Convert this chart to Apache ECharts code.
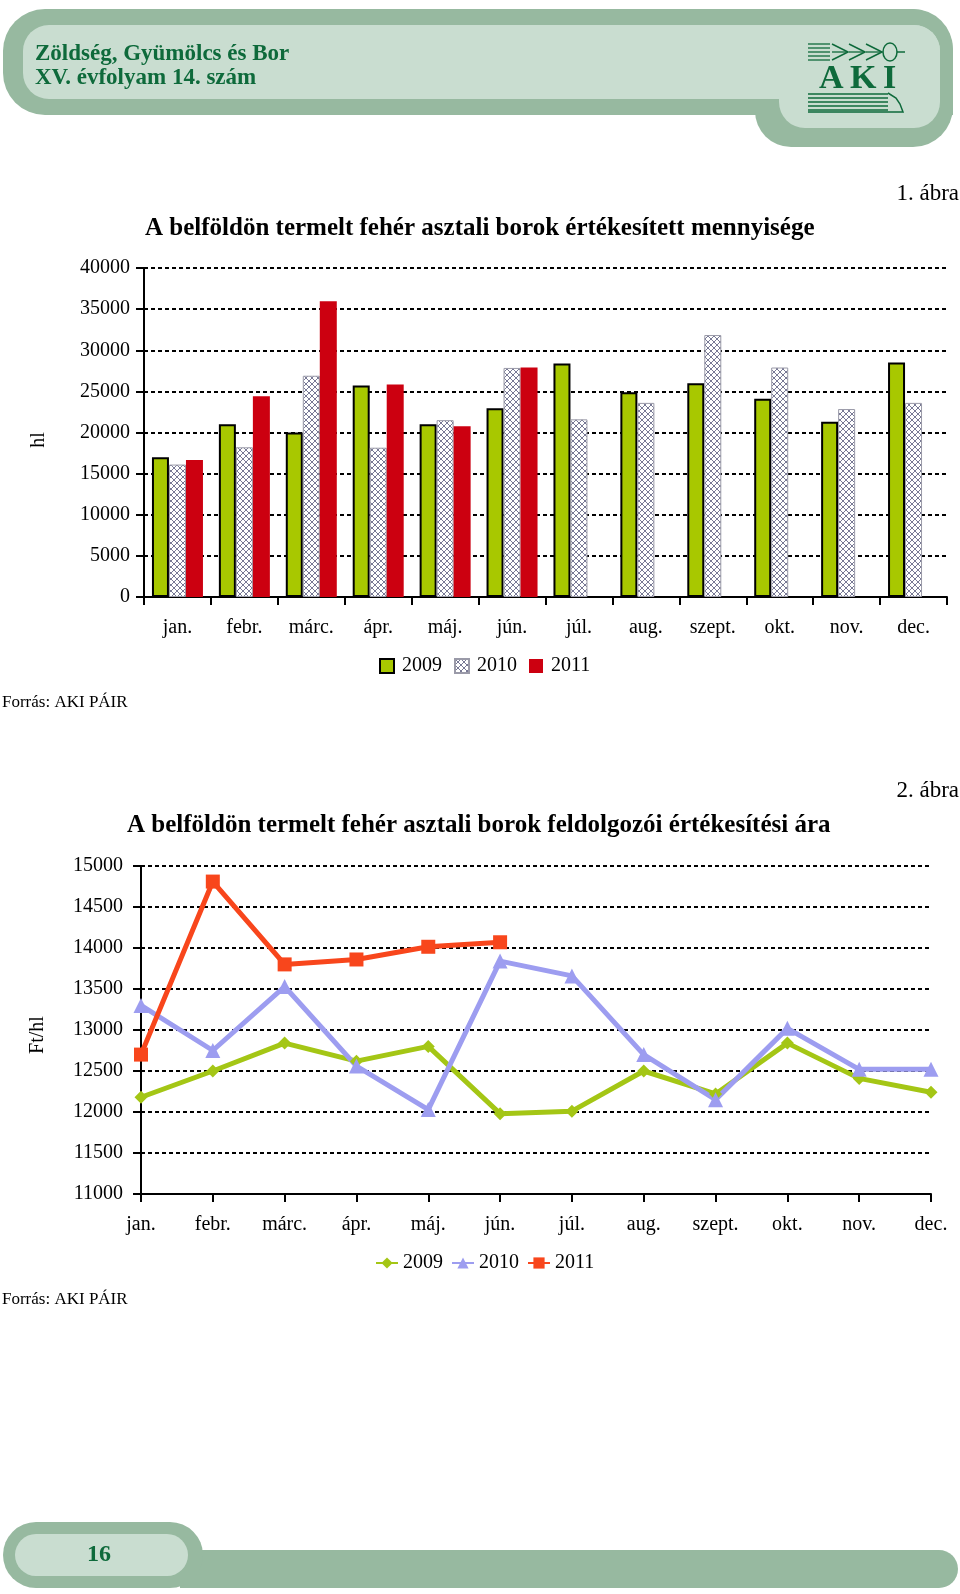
<!DOCTYPE html>
<html>
<head>
<meta charset="utf-8">
<script src="https://cdn.jsdelivr.net/npm/echarts@6/dist/echarts.min.js"></script>
<style>
html,body{margin:0;padding:0;background:#fff;}
#chart{width:960px;height:1594px;}
</style>
</head>
<body>
<div id="chart"></div>
<script>
// hónapok, évek
var months = ['jan.','febr.','márc.','ápr.','máj.','jún.','júl.','aug.','szept.','okt.','nov.','dec.'];
var years = ['2009','2010','2011'];
// 1. ábra: értékesített mennyiség (hl)
var qty2009 = [17000,21000,20000,25700,21000,22950,28400,24900,26000,24100,21300,28500];
var qty2010 = [16100,18200,26900,18150,21500,27850,21600,23600,31850,27900,22850,23600];
var qty2011 = [16650,24400,35950,25850,20750,27900,null,null,null,null,null,null];
// 2. ábra: feldolgozói értékesítési ár (Ft/hl)
var price2009 = [12180,12500,12840,12620,12800,11980,12010,12500,12220,12840,12410,12240];
var price2010 = [13300,12750,13530,12560,12030,13840,13660,12700,12150,13020,12520,12520];
var price2011 = [12700,14810,13800,13860,14015,14070,null,null,null,null,null,null];
// tengely beosztások
var qtyTicks = [0,5000,10000,15000,20000,25000,30000,35000,40000];
var priceTicks = [11000,11500,12000,12500,13000,13500,14000,14500,15000];

var FONT = 'Liberation Serif';
var GREEN_TXT = '#0e6a3b';
var OUTER = '#97b9a0';
var INNER = '#c9ddd0';

//kereszt-sraffozás a 2010-es oszlopokhoz
function hatchCanvas(){
    var c = document.createElement('canvas');
    c.width = 6; c.height = 6;
    var ctx = c.getContext('2d');
    ctx.fillStyle = '#fff';
    ctx.fillRect(0,0,6,6);
    ctx.strokeStyle = '#55577a';
    ctx.lineWidth = 0.8;
    ctx.beginPath();
    ctx.moveTo(0,0); ctx.lineTo(6,6);
    ctx.moveTo(6,0); ctx.lineTo(0,6);
    ctx.stroke();
    return c;
}
var hatch = {image: hatchCanvas(), repeat: 'repeat'};

var chart = echarts.init(document.getElementById('chart'), null, {renderer:'canvas'});

var splitLine = {show:true, lineStyle:{color:'#000', width:2, type:[4,3]}};
var axisLine = {show:true, lineStyle:{color:'#000', width:2}};
var labelStyle = {fontFamily:FONT, fontSize:20, color:'#000'};
var plainNum = function(v){ return String(v); };

//fejléc és lábléc rajz
var deco = [
    {type:'rect', shape:{x:3,y:9,width:950,height:106,r:[42,42,0,42]}, style:{fill:OUTER}},
    {type:'rect', shape:{x:755,y:9,width:198,height:138,r:[0,40,40,36]}, style:{fill:OUTER}},
    {type:'rect', shape:{x:23,y:25,width:917,height:74,r:[26,26,0,26]}, style:{fill:INNER}},
    {type:'rect', shape:{x:779,y:25,width:161,height:103,r:[0,26,26,26]}, style:{fill:INNER}},
    {type:'text', style:{text:'Zöldség, Gyümölcs és Bor', x:35, y:54, font:'bold 23px "Liberation Serif"', fill:GREEN_TXT, verticalAlign:'middle'}},
    {type:'text', style:{text:'XV. évfolyam 14. szám', x:35, y:78, font:'bold 23px "Liberation Serif"', fill:GREEN_TXT, verticalAlign:'middle'}},
    {type:'text', style:{text:'A', x:819, y:79, font:'bold 34px "Liberation Serif"', fill:GREEN_TXT, verticalAlign:'middle'}},
    {type:'text', style:{text:'K', x:850, y:79, font:'bold 34px "Liberation Serif"', fill:GREEN_TXT, verticalAlign:'middle'}},
    {type:'text', style:{text:'I', x:883, y:79, font:'bold 34px "Liberation Serif"', fill:GREEN_TXT, verticalAlign:'middle'}},
    {type:'ellipse', shape:{cx:890,cy:52,rx:7,ry:9}, style:{fill:'none', stroke:GREEN_TXT, lineWidth:1.5}},
    {type:'line', shape:{x1:897,y1:52,x2:905,y2:52}, style:{stroke:GREEN_TXT, lineWidth:1.5}},
    // lábléc
    {type:'rect', shape:{x:180,y:1550,width:778,height:38,r:[0,19,19,0]}, style:{fill:OUTER}},
    {type:'rect', shape:{x:3,y:1522,width:200,height:66,r:33}, style:{fill:OUTER}},
    {type:'rect', shape:{x:15,y:1534,width:173,height:42,r:21}, style:{fill:INNER}},
    {type:'text', style:{text:'16', x:99, y:1555, font:'bold 24px "Liberation Serif"', fill:GREEN_TXT, align:'center', verticalAlign:'middle'}},
    // tengelynevek
    {type:'text', x:39, y:440, rotation:Math.PI/2, style:{text:'hl', x:0, y:0, font:'20px "Liberation Serif"', fill:'#000', align:'center', verticalAlign:'middle'}},
    {type:'text', x:38, y:1035, rotation:Math.PI/2, style:{text:'Ft/hl', x:0, y:0, font:'20px "Liberation Serif"', fill:'#000', align:'center', verticalAlign:'middle'}},
    // forrás
    {type:'text', style:{text:'Forrás: AKI PÁIR', x:2, y:703, font:'17px "Liberation Serif"', fill:'#000', verticalAlign:'middle'}},
    {type:'text', style:{text:'Forrás: AKI PÁIR', x:2, y:1300, font:'17px "Liberation Serif"', fill:'#000', verticalAlign:'middle'}}
];
// logo vonalai
for(var i=0;i<5;i++){
    deco.push({type:'line', shape:{x1:808,y1:44+i*4,x2:830,y2:44+i*4}, style:{stroke:GREEN_TXT, lineWidth:1.3}});
    deco.push({type:'line', shape:{x1:808,y1:94+i*4,x2:888,y2:94+i*4}, style:{stroke:GREEN_TXT, lineWidth:1.3}});
}
for(var k=0;k<3;k++){
    var x0 = 832 + k*17;
    deco.push({type:'polyline', shape:{points:[[x0,44],[x0+12,50],[x0+16,52],[x0+12,54],[x0,60]]}, style:{fill:'none', stroke:GREEN_TXT, lineWidth:1.5}});
    deco.push({type:'line', shape:{x1:x0,y1:52,x2:x0+16,y2:52}, style:{stroke:GREEN_TXT, lineWidth:1.3}});
}
deco.push({type:'polyline', shape:{points:[[888,93],[896,98],[900,104],[903,112],[808,112]]}, style:{fill:'none', stroke:GREEN_TXT, lineWidth:1.5}});

var option = {
    animation:false,
    backgroundColor:'#fff',
    title:[
        {text:'A belföldön termelt fehér asztali borok értékesített mennyisége', left:145, top:216, padding:0,
            textStyle:{fontFamily:FONT, fontSize:25, fontWeight:'bold', color:'#000'}},
        {text:'1. ábra', right:1, top:182, padding:0, textStyle:{fontFamily:FONT, fontSize:23, fontWeight:'normal', color:'#000'}},
        {text:'A belföldön termelt fehér asztali borok feldolgozói értékesítési ára', left:127, top:813, padding:0,
            textStyle:{fontFamily:FONT, fontSize:25, fontWeight:'bold', color:'#000'}},
        {text:'2. ábra', right:1, top:779, padding:0, textStyle:{fontFamily:FONT, fontSize:23, fontWeight:'normal', color:'#000'}}
    ],
    legend:[
        {data:['2009','2010','2011'].map(function(n){return {name:n};}),
            left:374, top:651, itemWidth:14, itemHeight:14, itemGap:12, icon:'rect',
            textStyle:{fontFamily:FONT, fontSize:20, color:'#000', padding:[0,0,0,3]},
            selectedMode:false},
        {data:[{name:'2009 '},{name:'2010 '},{name:'2011 '}],
            left:370, top:1248, itemWidth:22, itemHeight:14, itemGap:3,
            textStyle:{fontFamily:FONT, fontSize:20, color:'#000'},
            selectedMode:false}
    ],
    grid:[
        {left:144, top:268, width:803, height:329},
        {left:141, top:866, width:790, height:328}
    ],
    xAxis:[
        {type:'category', gridIndex:0, data:months, boundaryGap:true,
            axisLine:axisLine, axisTick:{show:true, length:8, lineStyle:{color:'#000', width:2}},
            axisLabel:Object.assign({margin:21}, labelStyle), splitLine:{show:false}},
        {type:'category', gridIndex:1, data:months, boundaryGap:false,
            axisLine:axisLine, axisTick:{show:true, length:8, lineStyle:{color:'#000', width:2}},
            axisLabel:Object.assign({margin:21}, labelStyle), splitLine:{show:false}}
    ],
    yAxis:[
        {type:'value', gridIndex:0, min:qtyTicks[0], max:qtyTicks[qtyTicks.length-1], interval:5000,
            axisLine:axisLine, axisTick:{show:true, length:8, lineStyle:{color:'#000', width:2}},
            axisLabel:Object.assign({margin:14, formatter:plainNum}, labelStyle), splitLine:splitLine},
        {type:'value', gridIndex:1, min:priceTicks[0], max:priceTicks[priceTicks.length-1], interval:500,
            axisLine:axisLine, axisTick:{show:true, length:8, lineStyle:{color:'#000', width:2}},
            axisLabel:Object.assign({margin:18, formatter:plainNum}, labelStyle), splitLine:splitLine}
    ],
    series:[
        {name:years[0], type:'bar', xAxisIndex:0, yAxisIndex:0, data:qty2009, barWidth:17, barGap:'0%',
            itemStyle:{color:'#a8c800', borderColor:'#000', borderWidth:2}},
        {name:years[1], type:'bar', xAxisIndex:0, yAxisIndex:0, data:qty2010, barWidth:17, barGap:'0%',
            itemStyle:{color:hatch, borderColor:'#9a9aa8', borderWidth:1}},
        {name:years[2], type:'bar', xAxisIndex:0, yAxisIndex:0, data:qty2011, barWidth:17, barGap:'0%',
            itemStyle:{color:'#cc0010'}},
        {name:'2009 ', type:'line', xAxisIndex:1, yAxisIndex:1, data:price2009,
            symbol:'diamond', symbolSize:13, lineStyle:{color:'#a4c615', width:5}, itemStyle:{color:'#a4c615'}},
        {name:'2010 ', type:'line', xAxisIndex:1, yAxisIndex:1, data:price2010,
            symbol:'triangle', symbolSize:15, lineStyle:{color:'#9d9df0', width:5}, itemStyle:{color:'#9d9df0'}},
        {name:'2011 ', type:'line', xAxisIndex:1, yAxisIndex:1, data:price2011, connectNulls:false,
            symbol:'rect', symbolSize:14, lineStyle:{color:'#f8461c', width:5}, itemStyle:{color:'#f8461c'}}
    ],
    graphic:deco
};
chart.setOption(option);
</script>
</body>
</html>
